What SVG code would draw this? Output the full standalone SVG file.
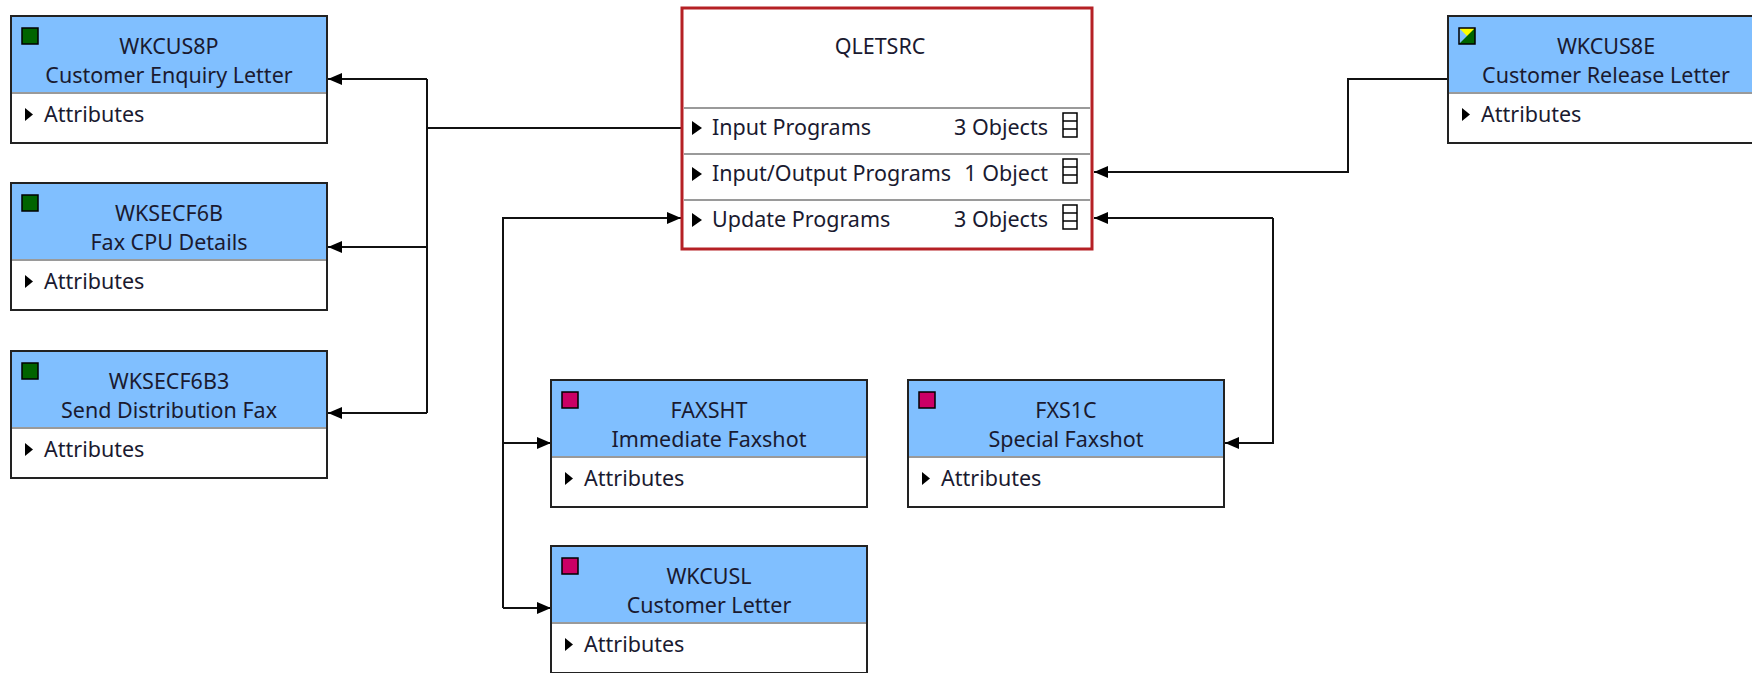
<svg xmlns="http://www.w3.org/2000/svg" width="1752" height="673" viewBox="0 0 1752 673">
<style>
text{font-family:"Noto Sans","Open Sans","DejaVu Sans",sans-serif;font-size:21.5px;fill:#1a1a30}
.c{text-anchor:middle}
.e{text-anchor:end}
.hd{fill:#80bfff;stroke:none}
.bx{fill:none;stroke:#222;stroke-width:2}
.sep{stroke:#9a9a9a;stroke-width:2}
.tri{fill:#000}
.g{fill:#006400;stroke:#000;stroke-width:1.5}
.m{fill:#cc0066;stroke:#000;stroke-width:1.5}
.ln{fill:none;stroke:#111;stroke-width:2}
.ic{fill:#fff;stroke:#000;stroke-width:1.5}
</style>
<defs>
<marker id="ah" viewBox="0 0 14 12" refX="14" refY="6" markerWidth="14" markerHeight="12" markerUnits="userSpaceOnUse" orient="auto">
<path d="M0,0 L14,6 L0,12 z" fill="#000"/>
</marker>
<g id="entity">
<rect x="0" y="0" width="316" height="127" fill="#fff"/>
<rect class="hd" x="0" y="0" width="316" height="77"/>
<line class="sep" x1="1" y1="77" x2="315" y2="77"/>
<rect class="bx" x="0" y="0" width="316" height="127"/>
<path class="tri" d="M14,92 L22,98.5 L14,105 z"/>
<text x="33" y="106">Attributes</text>
</g>
</defs>

<g id="connectors">
<path class="ln" d="M681,128 H427"/>
<path class="ln" d="M427,79 V413"/>
<path class="ln" d="M427,79 H328" marker-end="url(#ah)"/>
<path class="ln" d="M427,247 H328" marker-end="url(#ah)"/>
<path class="ln" d="M427,413 H328" marker-end="url(#ah)"/>
<path class="ln" d="M1448,79 H1348 V172 H1094" marker-end="url(#ah)"/>
<path class="ln" d="M503,608 V218 H681" marker-end="url(#ah)"/>
<path class="ln" d="M503,443 H551" marker-end="url(#ah)"/>
<path class="ln" d="M503,608 H551" marker-end="url(#ah)"/>
<path class="ln" d="M1273,218 H1094" marker-end="url(#ah)"/>
<path class="ln" d="M1273,218 V443 H1225" marker-end="url(#ah)"/>
</g>

<g id="QLETSRC">
<rect x="682" y="8" width="410" height="241" fill="#fff" stroke="#b52025" stroke-width="3"/>
<text class="c" x="880" y="54">QLETSRC</text>
<line class="sep" x1="684" y1="108" x2="1090" y2="108"/>
<line class="sep" x1="684" y1="154" x2="1090" y2="154"/>
<line class="sep" x1="684" y1="200" x2="1090" y2="200"/>
<path class="tri" d="M692,121 L702,128 L692,135 z"/>
<text x="712" y="135">Input Programs</text>
<text class="e" x="1048" y="135">3 Objects</text>
<rect class="ic" x="1063" y="113" width="14" height="24"/>
<line class="ic" x1="1063" y1="121" x2="1077" y2="121"/>
<line class="ic" x1="1063" y1="129" x2="1077" y2="129"/>
<path class="tri" d="M692,167 L702,174 L692,181 z"/>
<text x="712" y="181">Input/Output Programs</text>
<text class="e" x="1048" y="181">1 Object</text>
<rect class="ic" x="1063" y="159" width="14" height="24"/>
<line class="ic" x1="1063" y1="167" x2="1077" y2="167"/>
<line class="ic" x1="1063" y1="175" x2="1077" y2="175"/>
<path class="tri" d="M692,213 L702,220 L692,227 z"/>
<text x="712" y="227">Update Programs</text>
<text class="e" x="1048" y="227">3 Objects</text>
<rect class="ic" x="1063" y="205" width="14" height="24"/>
<line class="ic" x1="1063" y1="213" x2="1077" y2="213"/>
<line class="ic" x1="1063" y1="221" x2="1077" y2="221"/>
</g>

<g id="WKCUS8P" transform="translate(11,16)">
<use href="#entity"/>
<rect class="g" x="11" y="12" width="16" height="16"/>
<text class="c" x="158" y="38">WKCUS8P</text>
<text class="c" x="158" y="67">Customer Enquiry Letter</text>
</g>

<g id="WKSECF6B" transform="translate(11,183)">
<use href="#entity"/>
<rect class="g" x="11" y="12" width="16" height="16"/>
<text class="c" x="158" y="38">WKSECF6B</text>
<text class="c" x="158" y="67">Fax CPU Details</text>
</g>

<g id="WKSECF6B3" transform="translate(11,351)">
<use href="#entity"/>
<rect class="g" x="11" y="12" width="16" height="16"/>
<text class="c" x="158" y="38">WKSECF6B3</text>
<text class="c" x="158" y="67">Send Distribution Fax</text>
</g>

<g id="WKCUS8E" transform="translate(1448,16)">
<use href="#entity"/>
<path d="M11,12 H27 V28 Z" fill="#ffff00"/>
<path d="M27,12 V28 H11 Z" fill="#006400"/>
<rect x="11" y="12" width="16" height="16" fill="none" stroke="#000" stroke-width="1.5"/>
<text class="c" x="158" y="38">WKCUS8E</text>
<text class="c" x="158" y="67">Customer Release Letter</text>
</g>

<g id="FAXSHT" transform="translate(551,380)">
<use href="#entity"/>
<rect class="m" x="11" y="12" width="16" height="16"/>
<text class="c" x="158" y="38">FAXSHT</text>
<text class="c" x="158" y="67">Immediate Faxshot</text>
</g>

<g id="FXS1C" transform="translate(908,380)">
<use href="#entity"/>
<rect class="m" x="11" y="12" width="16" height="16"/>
<text class="c" x="158" y="38">FXS1C</text>
<text class="c" x="158" y="67">Special Faxshot</text>
</g>

<g id="WKCUSL" transform="translate(551,546)">
<use href="#entity"/>
<rect class="m" x="11" y="12" width="16" height="16"/>
<text class="c" x="158" y="38">WKCUSL</text>
<text class="c" x="158" y="67">Customer Letter</text>
</g>
</svg>
